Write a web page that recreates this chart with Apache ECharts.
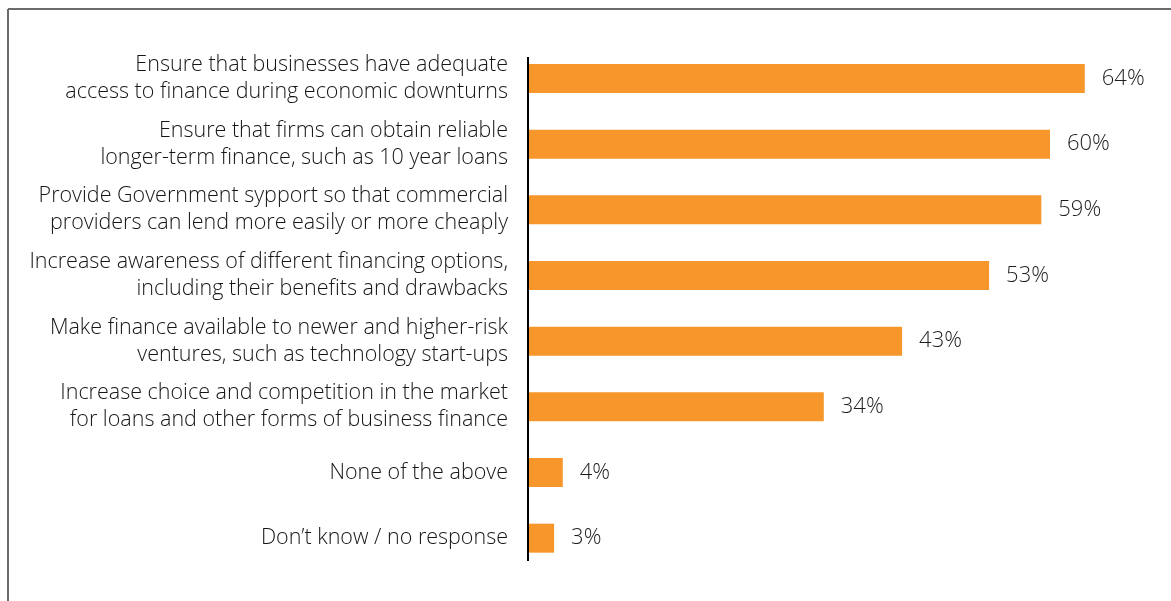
<!DOCTYPE html>
<html>
<head>
<meta charset="utf-8">
<script src="https://cdn.jsdelivr.net/npm/echarts@6/dist/echarts.min.js"></script>
<style>
  html, body { margin: 0; padding: 0; background: #fff; }
  #chart { width: 1171px; height: 601px; }
</style>
</head>
<body>
<div id="chart"></div>
<script>
// Survey answers, listed top to bottom
const categories = [
  'Ensure that businesses have adequate\naccess to finance during economic downturns',
  'Ensure that firms can obtain reliable\nlonger-term finance, such as 10 year loans',
  'Provide Government sypport so that commercial\nproviders can lend more easily or more cheaply',
  'Increase awareness of different financing options,\nincluding their benefits and drawbacks',
  'Make finance available to newer and higher-risk\nventures, such as technology start-ups',
  'Increase choice and competition in the market\nfor loans and other forms of business finance',
  'None of the above',
  'Don\u2019t know / no response'
];
// Share of respondents, percent
const shares = [64, 60, 59, 53, 43, 34, 4, 3];

const chart = echarts.init(document.getElementById('chart'), null, { renderer: 'canvas' });

const textFont = 'Open Sans';

chart.setOption({
  animation: false,
  backgroundColor: '#ffffff',
  grid: { left: 528, right: 34, top: 45.7, bottom: 30 },
  xAxis: {
    type: 'value',
    min: 0,
    max: 70,
    show: false
  },
  yAxis: {
    type: 'category',
    inverse: true,
    data: categories,
    axisLine: { show: false },
    axisTick: { show: false },
    axisLabel: {
      margin: 20,
      align: 'right',
      color: '#151515',
      fontFamily: textFont,
      fontWeight: 300,
      fontSize: 21.5,
      lineHeight: 27
    }
  },
  series: [{
    type: 'bar',
    data: shares,
    barWidth: 29,
    itemStyle: { color: '#F7972B' },
    label: {
      show: true,
      position: 'right',
      distance: 17,
      formatter: '{c}%',
      color: '#1e1e1e',
      fontFamily: textFont,
      fontWeight: 300,
      fontSize: 22
    }
  }],
  graphic: [
    // outer frame (left and top edges)
    { type: 'line', shape: { x1: 8, y1: 9, x2: 8, y2: 601 }, style: { stroke: '#6b6b6b', lineWidth: 2 } },
    { type: 'line', shape: { x1: 8, y1: 9, x2: 1171, y2: 9 }, style: { stroke: '#6b6b6b', lineWidth: 2 } },
    // category axis line
    { type: 'line', shape: { x1: 528, y1: 57, x2: 528, y2: 561 }, style: { stroke: '#000000', lineWidth: 2 }, z: 10 }
  ]
});
</script>
</body>
</html>
